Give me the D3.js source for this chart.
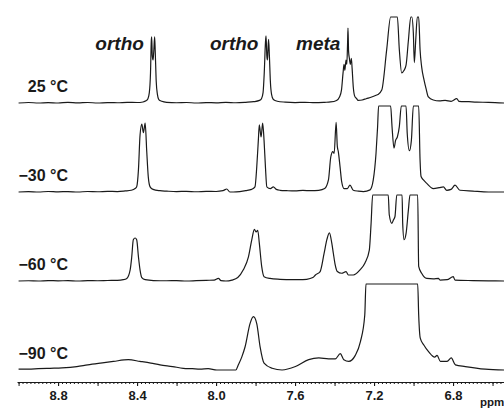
<!DOCTYPE html>
<html>
<head>
<meta charset="utf-8">
<script src="https://cdn.jsdelivr.net/npm/d3@7/dist/d3.min.js"></script>
<style>
  body { margin: 0; background: #fff; }
  svg { display: block; }
</style>
</head>
<body>
<svg id="chart" width="504" height="409"></svg>
<script>
// temperatures, top to bottom
var temps = ["25 °C", "\u221230 °C", "\u221260 °C", "\u221290 °C"];

// peak assignment labels (on the top trace)
var assignLabels = ["ortho", "ortho", "meta"];
var assignPpm = [8.33, 7.75, 7.335];

// axis labels
var tickLabels = [8.8, 8.4, 8.0, 7.6, 7.2, 6.8];

// spectra: [ppm, intensity]  (100 = top of the plotting window, peaks are cut there)
var spec25 = [
  [9.00,0],[8.95,0.6],[8.90,-0.3],[8.85,0.5],[8.80,0],[8.75,0.8],[8.70,0.2],[8.65,0.6],[8.60,-0.2],[8.55,0.4],
  [8.50,0.3],[8.45,0.8],[8.40,0.6],[8.37,1.2],[8.355,2.5],[8.345,5],[8.338,12],[8.332,35],[8.328,72],[8.326,77],
  [8.323,55],[8.319,50],[8.315,62],[8.311,77],[8.308,60],[8.303,25],[8.297,10],[8.29,4],[8.275,2],[8.25,0.8],
  [8.20,0.3],[8.15,0.6],[8.10,0],[8.05,0.5],[8.00,0.2],[7.95,0.7],[7.90,0.3],[7.85,0.8],[7.81,1.5],[7.78,3],
  [7.77,5],[7.762,12],[7.756,35],[7.750,70],[7.747,78],[7.743,55],[7.740,50],[7.737,62],[7.734,74],[7.730,55],
  [7.725,25],[7.719,10],[7.71,4],[7.69,2],[7.65,1],[7.60,0.5],[7.55,0.8],[7.50,0.4],[7.45,0.8],[7.42,1.2],
  [7.39,3],[7.375,7],[7.365,15],[7.357,35],[7.352,45],[7.348,38],[7.342,50],[7.338,45],[7.334,70],[7.332,87],
  [7.329,60],[7.325,52],[7.32,45],[7.315,52],[7.311,40],[7.305,18],[7.298,8],[7.288,5],[7.281,3],[7.26,3.5],
  [7.24,5],[7.212,7],[7.19,9],[7.18,10],[7.161,15],[7.136,62],[7.116,100],[7.082,100],[7.072,62],[7.060,35],
  [7.048,38],[7.038,44],[7.026,73],[7.014,100],[7.009,100],[7.001,81],[6.996,47],[6.989,73],[6.981,100],[6.974,100],
  [6.967,62],[6.959,42],[6.947,27],[6.937,17],[6.925,7],[6.90,3.5],[6.87,2.5],[6.84,3],[6.81,2],[6.781,5],
  [6.77,2],[6.72,1.5],[6.68,1],[6.62,0.8],[6.54,0]
];

var specM30 = [
  [9.00,0],[8.95,0.5],[8.90,0],[8.85,0.6],[8.80,0.2],[8.75,0.5],[8.70,0],[8.65,0.6],[8.60,0.3],[8.55,0.8],
  [8.50,0.5],[8.46,1.2],[8.43,2],[8.41,4],[8.402,6],[8.393,26],[8.385,66],[8.376,79],[8.368,69],[8.359,80],
  [8.351,47],[8.343,17],[8.334,6],[8.319,3],[8.284,1.5],[8.25,1],[8.20,0.5],[8.15,0.8],[8.10,0.3],[8.05,0.8],
  [8.00,0.6],[7.965,1.5],[7.946,3.5],[7.93,0],[7.912,-1],[7.88,0.5],[7.85,1.5],[7.82,3],[7.803,6],[7.794,29],
  [7.786,60],[7.781,78],[7.772,64],[7.764,80],[7.757,60],[7.750,29],[7.743,6],[7.725,4],[7.710,6],[7.695,3],
  [7.676,2],[7.64,1.5],[7.60,1.2],[7.56,1.8],[7.52,1.5],[7.48,2],[7.45,4],[7.431,14],[7.419,41],[7.409,47],
  [7.402,45],[7.392,81],[7.386,53],[7.381,47],[7.372,29],[7.364,12],[7.352,4],[7.335,4],[7.322,8],[7.305,2],
  [7.28,1],[7.254,0.5],[7.22,2.5],[7.204,14],[7.190,45],[7.182,76],[7.177,100],[7.116,100],[7.109,76],[7.099,51],
  [7.091,60],[7.082,64],[7.072,76],[7.062,100],[7.038,100],[7.032,68],[7.021,48],[7.011,60],[7.001,100],[6.974,100],
  [6.967,37],[6.962,18],[6.950,14],[6.933,10],[6.90,4],[6.87,5],[6.849,6],[6.832,2],[6.81,3],[6.790,8],
  [6.765,2],[6.70,1],[6.62,0],[6.54,-1]
];

var specM60 = [
  [9.00,0],[8.95,0.3],[8.90,0],[8.85,0.5],[8.80,0.2],[8.75,0.4],[8.70,0],[8.65,0.5],[8.60,0.3],[8.55,0.6],
  [8.50,0.8],[8.47,1.5],[8.452,3],[8.435,13],[8.427,28],[8.419,48],[8.410,50],[8.402,48],[8.393,28],[8.385,13],
  [8.376,4],[8.359,1.5],[8.317,0.5],[8.25,0.3],[8.20,0.5],[8.15,0],[8.10,0.4],[8.05,0.8],[8.01,1],[7.988,3],
  [7.975,0.5],[7.95,0],[7.92,1],[7.89,4],[7.862,13],[7.836,28],[7.819,48],[7.806,60],[7.797,57],[7.789,59],
  [7.781,44],[7.769,17],[7.757,5],[7.727,3],[7.676,2],[7.62,1.5],[7.58,1.5],[7.541,2],[7.51,4],[7.497,7],
  [7.473,11],[7.453,32],[7.439,48],[7.426,56],[7.414,44],[7.406,32],[7.397,19],[7.386,11],[7.364,9],[7.342,11],
  [7.330,7],[7.305,7],[7.271,13],[7.246,21],[7.224,36],[7.215,67],[7.207,100],[7.128,100],[7.123,77],[7.110,67],
  [7.102,71],[7.094,75],[7.085,100],[7.058,100],[7.055,67],[7.048,48],[7.038,55],[7.026,83],[7.018,100],[6.979,100],
  [6.974,17],[6.959,9],[6.933,3],[6.90,2.5],[6.874,3],[6.866,1],[6.83,1.5],[6.799,5],[6.790,1],[6.70,0.5],
  [6.62,0.2],[6.54,0]
];

var specM90 = [
  [9.00,1],[8.95,1],[8.90,1.5],[8.841,2],[8.78,2.5],[8.705,4],[8.65,6],[8.587,8],[8.52,10],[8.444,12],
  [8.385,10],[8.33,8],[8.284,6],[8.22,4],[8.166,2],[8.12,1.5],[8.081,1],[8.04,1.5],[7.996,0],[7.95,-0.5],
  [7.912,-1],[7.90,0],[7.887,6],[7.870,15],[7.853,27],[7.828,54],[7.811,62],[7.794,54],[7.777,27],[7.757,8],
  [7.716,2],[7.666,0],[7.598,4],[7.531,12],[7.480,14],[7.43,13],[7.396,13],[7.371,19],[7.353,12],[7.328,10],
  [7.295,17],[7.269,33],[7.247,64],[7.241,100],[6.979,100],[6.974,64],[6.966,37],[6.948,29],[6.923,21],[6.893,15],
  [6.881,17],[6.864,10],[6.830,10],[6.809,14],[6.788,6],[6.738,4],[6.637,1],[6.54,-1]
];

var spectra = [spec25, specM30, specM60, specM90];

var svg = d3.select('#chart');
var ink = '#1a1a1a';
var font = '"Liberation Sans", Arial, sans-serif';

// ppm runs right to left
var x = d3.scaleLinear().domain([9.008, 6.542]).range([17, 504]);

var firstBase = 103, step = 89, windowH = 86;

spectra.forEach(function(spec, i) {
  var base = firstBase + i * step;
  var y = d3.scaleLinear().domain([0, 100]).range([base, base - windowH]).clamp(true);

  var line = d3.line()
    .x(function(d) { return x(d[0]); })
    .y(function(d) { return y(d[1]); })
    .curve(d3.curveMonotoneX);

  svg.append('path')
    .datum(spec)
    .attr('d', line)
    .attr('fill', 'none')
    .attr('stroke', ink)
    .attr('stroke-width', 1.2)
    .attr('stroke-linejoin', 'round');

  // temperature label
  svg.append('text')
    .attr('x', 68)
    .attr('y', base - 11)
    .attr('text-anchor', 'end')
    .attr('font-family', font)
    .attr('font-weight', 'bold')
    .attr('font-size', 16)
    .attr('fill', ink)
    .text(temps[i]);
});

// assignments over the 25 °C trace
assignLabels.forEach(function(lab, i) {
  svg.append('text')
    .attr('x', x(assignPpm[i]) - 7)
    .attr('y', 50)
    .attr('text-anchor', 'end')
    .attr('font-family', font)
    .attr('font-weight', 'bold')
    .attr('font-style', 'italic')
    .attr('font-size', 19)
    .attr('fill', ink)
    .text(lab);
});

// axis
var axisY = 382;
var minor = d3.range(0, 124).map(function(k) { return +(9.0 - k * 0.02).toFixed(2); });
var major = d3.range(0, 13).map(function(k) { return +(9.0 - k * 0.2).toFixed(1); });

svg.append('g')
  .attr('transform', 'translate(0,' + axisY + ')')
  .call(d3.axisBottom(x).tickValues(minor).tickSize(2).tickSizeOuter(0).tickFormat(''))
  .call(function(g) { g.selectAll('line, path').attr('stroke', ink); });

svg.append('g')
  .attr('transform', 'translate(0,' + axisY + ')')
  .call(d3.axisBottom(x).tickValues(major).tickSize(4).tickSizeOuter(0).tickFormat(''))
  .call(function(g) { g.select('.domain').remove(); g.selectAll('line').attr('stroke', ink); });

svg.append('g')
  .attr('transform', 'translate(0,' + axisY + ')')
  .call(d3.axisBottom(x).tickValues(tickLabels).tickSize(4).tickPadding(5).tickSizeOuter(0).tickFormat(d3.format('.1f')))
  .call(function(g) {
    g.select('.domain').remove();
    g.selectAll('line').attr('stroke', ink);
    // d3 sets font on the group during the call, so override afterwards
    g.attr('font-family', font).attr('font-size', 13).attr('font-weight', 'bold');
    g.selectAll('text').attr('fill', ink);
  });

svg.append('text')
  .attr('x', 480)
  .attr('y', 406)
  .attr('font-family', font)
  .attr('font-weight', 'bold')
  .attr('font-size', 11.5)
  .attr('fill', ink)
  .text('ppm');
</script>
</body>
</html>
